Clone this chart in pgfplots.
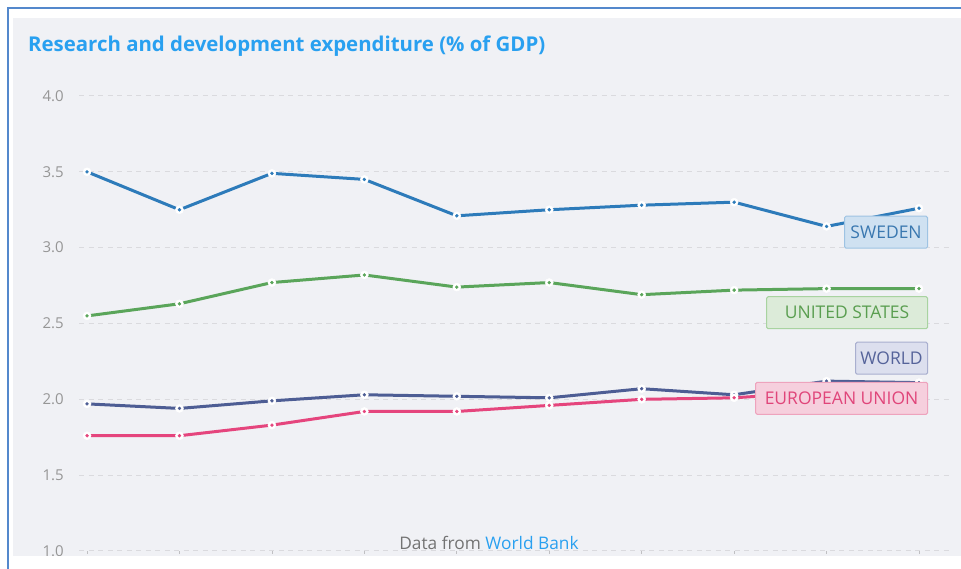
\documentclass[border=0pt]{standalone}
\usepackage{pgfplots}
\usepackage{pgfplotstable}
\pgfplotsset{compat=1.18}
\usepackage{fontspec}
\setmainfont{Open Sans}
\definecolor{panel}{RGB}{240,241,245}
\definecolor{frame}{RGB}{84,136,204}
\definecolor{titleblue}{RGB}{41,160,240}
\definecolor{swe}{RGB}{45,123,186}
\definecolor{swefill}{RGB}{207,225,241}
\definecolor{swebord}{RGB}{158,195,227}
\definecolor{swetext}{RGB}{58,120,176}
\definecolor{usa}{RGB}{90,165,90}
\definecolor{usafill}{RGB}{220,235,217}
\definecolor{usabord}{RGB}{168,211,160}
\definecolor{usatext}{RGB}{90,158,80}
\definecolor{wld}{RGB}{77,93,148}
\definecolor{wldfill}{RGB}{220,223,238}
\definecolor{wldbord}{RGB}{169,175,207}
\definecolor{wldtext}{RGB}{85,99,154}
\definecolor{eu}{RGB}{229,69,125}
\definecolor{eufill}{RGB}{246,207,221}
\definecolor{eubord}{RGB}{238,163,189}
\definecolor{eutext}{RGB}{224,69,122}
\definecolor{gridc}{RGB}{218,218,222}
\definecolor{tickc}{RGB}{150,150,150}
\pgfplotstableread{
x swe usa wld eu
0 3.50 2.55 1.97 1.76
1 3.25 2.63 1.94 1.76
2 3.49 2.77 1.99 1.83
3 3.45 2.82 2.03 1.92
4 3.21 2.74 2.02 1.92
5 3.25 2.77 2.01 1.96
6 3.28 2.69 2.07 2.00
7 3.30 2.72 2.03 2.01
8 3.14 2.73 2.12 2.05
9 3.26 2.73 2.11 2.08
}\data
\begin{document}
\begin{tikzpicture}[x=1pt,y=1pt]
\useasboundingbox (0,0) rectangle (961,569);
\fill[white] (0,0) rectangle (961,569);
\fill[panel] (13,13) rectangle (961,551);
\begin{axis}[
  at={(79pt,18pt)}, anchor=south west,
  scale only axis, width=872pt, height=455pt,
  xmin=-0.087, xmax=9.346, ymin=1, ymax=4,
  clip=false,
  axis line style={draw=none},
  xtick={0,1,...,9}, xticklabels={},
  xtick style={draw=gridc!70!gray, line width=0.8pt},
  major tick length=3pt, tick align=outside, xtick pos=bottom,
  ytick={1,1.5,2,2.5,3,3.5,4},
  ytick style={draw=none},
  ymajorgrids,
  grid style={gridc, line width=1pt, dash pattern=on 5pt off 4.5pt},
  yticklabel style={/pgf/number format/.cd, fixed, fixed zerofill, precision=1, assume math mode=true,
     /tikz/.cd, font=\fontsize{15}{15}\selectfont, text=tickc, anchor=east, inner sep=0pt, xshift=-12pt},
  ln/.style={line width=3pt, mark=none},
  wm/.style={only marks, white, mark=*, mark size=4pt, mark options={draw=white, fill=white, line width=0.5pt}},
  cm/.style={only marks, #1, mark=*, mark size=1.5pt, mark options={draw=#1, fill=#1, line width=0.4pt}},
]
\addplot[ln, swe] table[y=swe] {\data};
\addplot[wm] table[y=swe] {\data};
\addplot[cm=swe] table[y=swe] {\data};
\addplot[ln, usa] table[y=usa] {\data};
\addplot[wm] table[y=usa] {\data};
\addplot[cm=usa] table[y=usa] {\data};
\addplot[ln, wld] table[y=wld] {\data};
\addplot[wm] table[y=wld] {\data};
\addplot[cm=wld] table[y=wld] {\data};
\addplot[ln, eu] table[y=eu] {\data};
\addplot[wm] table[y=eu] {\data};
\addplot[cm=eu] table[y=eu] {\data};
\coordinate (lsw) at (axis cs:9.098,3.102);
\coordinate (lus) at (axis cs:9.098,2.571);
\coordinate (lwd) at (axis cs:9.098,2.271);
\coordinate (leu) at (axis cs:9.098,2.007);
\end{axis}
\tikzset{lab/.style={anchor=east, inner sep=0pt, minimum height=32pt, line width=1pt, rounded corners=1.5pt, font=\fontsize{17.5}{17.5}\selectfont}}
\node[lab, fill=swefill, draw=swebord, text=swetext, minimum width=83pt] at (lsw) {SWEDEN};
\node[lab, fill=usafill, draw=usabord, text=usatext, minimum width=161pt] at (lus) {UNITED STATES};
\node[lab, fill=wldfill, draw=wldbord, text=wldtext, minimum width=72pt] at (lwd) {WORLD};
\node[lab, fill=eufill, draw=eubord, text=eutext, minimum width=172pt] at (leu) {EUROPEAN UNION};
\fill[white] (0,0) rectangle (961,13);
\draw[frame, line width=2pt] (7.5,0) -- (7.5,561) -- (961,561);
\node[anchor=base west, inner sep=0pt, text=titleblue, font=\fontsize{20.4}{20.4}\selectfont\bfseries] at (28,517) {Research and development expenditure (\% of GDP)};
\node[anchor=base, inner sep=0pt, font=\fontsize{17.3}{17.3}\selectfont] at (489,19) {\textcolor{gray!90!black}{Data from} \textcolor{titleblue}{World Bank}};
\end{tikzpicture}
\end{document}
